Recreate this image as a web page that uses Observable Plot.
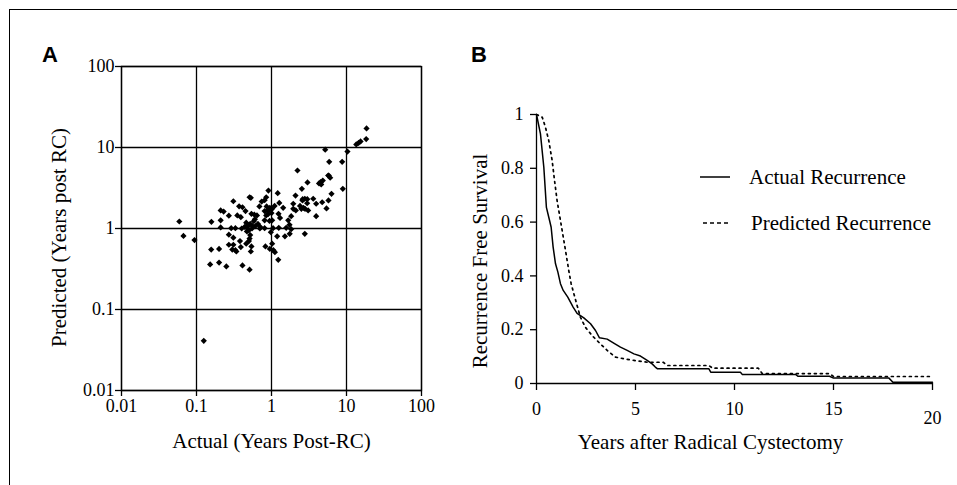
<!DOCTYPE html>
<html><head><meta charset="utf-8">
<script src="https://cdn.jsdelivr.net/npm/d3@7"></script>
<script src="https://cdn.jsdelivr.net/npm/@observablehq/plot@0.6"></script>
<style>
html,body{margin:0;padding:0;background:#fff;overflow:hidden;}
#wrap{position:relative;width:957px;height:485px;overflow:hidden;background:#fff;}
#border{position:absolute;left:9px;top:9px;width:1200px;height:800px;border-left:1.5px solid #000;border-top:1.5px solid #000;}
.panel{position:absolute;top:0;}
.lbl{position:absolute;font:bold 22px "Liberation Sans",Arial,sans-serif;color:#000;line-height:1;}
#legend{position:absolute;left:0;top:0;width:957px;height:485px;pointer-events:none;}
</style></head><body>
<div id="wrap">
<div id="border"></div>
<div id="pa" class="panel" style="left:0px"></div>
<div id="pb" class="panel" style="left:460px"></div>
<div class="lbl" style="left:42px;top:44px">A</div>
<div class="lbl" style="left:471px;top:44px">B</div>
<svg id="legend"></svg>
</div>
<script>
// ---------- Panel A data ----------
const actualYears = [0.059,0.067,0.094,0.158,0.21,0.21,0.157,0.20,0.152,0.20,0.25,0.21,0.23,0.27,0.31,0.35,0.37,0.41,0.39,0.29,0.33,0.27,0.31,0.38,0.27,0.31,0.33,0.34,0.39,0.41,0.51,0.51,0.53,0.45,0.54,0.59,0.46,0.49,0.52,0.56,0.61,0.66,0.71,0.46,0.54,0.53,0.51,0.52,0.58,0.64,0.69,0.74,0.81,0.85,0.91,0.86,0.81,0.89,0.95,1.02,0.81,0.81,0.94,1.02,1.05,0.83,0.95,1.02,1.06,1.11,1.23,1.19,1.25,1.24,1.27,1.21,1.43,1.57,1.51,1.74,1.83,1.75,1.67,1.83,1.95,1.95,2.11,2.09,2.22,2.54,2.59,2.78,2.67,2.99,3.02,3.08,3.6,2.78,3.94,3.94,4.5,4.74,4.83,5.2,5.41,5.75,5.88,5.7,6.06,6.31,8.75,8.93,10.3,13.5,14.5,15.4,18.3,18.5,
  0.125,0.48,0.50,0.44,0.55,0.47,0.90,0.92,1.0,0.85,2.4,2.6,2.8,2.5,3.0,1.1,0.5,0.3,0.6,0.7,0.4,0.98,1.3,4.3,4.6,5.8];
const predictedYears = [1.22,0.81,0.72,1.21,1.26,1.03,0.55,0.56,0.36,0.38,0.34,1.67,1.62,1.44,2.17,1.45,1.88,1.83,1.38,1.01,1.01,0.84,0.77,0.70,0.63,0.63,0.54,0.52,0.59,0.35,0.31,2.43,2.39,1.64,1.52,1.48,1.18,1.09,1.14,1.07,1.07,1.14,1.04,0.65,0.60,0.52,0.75,0.83,1.23,1.45,1.87,2.15,2.24,2.43,2.94,1.87,1.64,1.64,1.80,1.75,1.26,1.01,1.24,1.26,1.01,0.60,0.56,0.65,0.54,0.51,0.41,0.80,1.02,1.52,2.07,2.73,1.80,1.02,0.80,1.11,0.98,0.86,1.26,1.42,1.75,2.02,1.67,2.55,5.2,3.09,2.22,2.33,1.80,2.05,3.70,1.67,2.33,0.86,1.42,2.02,3.73,2.11,3.91,9.4,1.77,2.22,6.65,4.51,4.23,2.68,6.65,3.09,8.9,10.9,11.4,11.9,12.7,17.2,
  0.041,1.0,0.95,1.05,1.0,0.92,1.5,1.7,1.55,1.45,1.9,2.3,1.75,1.75,2.3,1.9,0.7,0.55,1.3,1.0,1.0,0.9,1.35,3.6,3.5,4.5];
const logTicks = [0.01, 0.1, 1, 10, 100];
const labelAX = "Actual (Years Post-RC)";
const labelAY = "Predicted (Years post RC)";

// ---------- Panel B data ----------
const actualTime = [0,0.2,0.37,0.5,0.66,0.74,0.84,0.96,1.08,1.21,1.35,1.58,1.85,2.05,2.39,2.73,2.98,3.18,3.57,3.9,4.24,4.58,4.92,5.25,5.59,5.84,6.0,6.1,8.7,8.8,10.3,10.4,13.1,13.2,14.8,15.0,17.8,18.0,20];
const actualSurvival = [1,0.928,0.804,0.655,0.606,0.581,0.507,0.445,0.414,0.371,0.346,0.321,0.284,0.261,0.244,0.222,0.197,0.170,0.165,0.150,0.135,0.123,0.110,0.102,0.086,0.073,0.061,0.055,0.055,0.042,0.042,0.033,0.033,0.027,0.027,0.020,0.020,0.005,0.005];
const predictedTime = [0,0.29,0.45,0.62,0.79,0.91,1.04,1.21,1.38,1.52,1.63,1.75,1.89,2.05,2.22,2.47,2.81,3.23,3.57,3.99,4.41,4.92,5.59,6.4,6.6,8.7,8.9,11.2,11.4,14.8,15.0,20];
const predictedSurvival = [1,0.99,0.953,0.903,0.829,0.755,0.680,0.606,0.532,0.470,0.420,0.371,0.333,0.290,0.246,0.209,0.178,0.147,0.123,0.098,0.092,0.086,0.079,0.079,0.067,0.067,0.057,0.057,0.037,0.037,0.026,0.026];
const xTicksB = [0, 5, 10, 15];
const xTickLastB = [20];
const yTicksB = [0, 0.2, 0.4, 0.6, 0.8, 1];
const labelBX = "Years after Radical Cystectomy";
const labelBY = "Recurrence Free Survival";
const legendLabels = ["Actual Recurrence", "Predicted Recurrence"];

const serif = '"Liberation Serif","Times New Roman",serif';
const points = actualYears.map((a, i) => ({actual: a, predicted: predictedYears[i]}));
const actualCurve = actualTime.map((t, i) => ({t, s: actualSurvival[i]}));
const predCurve = predictedTime.map((t, i) => ({t, s: predictedSurvival[i]}));
const diamond = d3.symbolDiamond2 || "diamond";

const plotA = Plot.plot({
  width: 470, height: 485,
  marginLeft: 121, marginRight: 49, marginTop: 66, marginBottom: 95,
  style: {fontFamily: serif, fontSize: "18px", color: "#000", background: "transparent", overflow: "visible"},
  x: {type: "log", domain: [0.01, 100], label: null},
  y: {type: "log", domain: [0.01, 100], label: null},
  marks: [
    Plot.gridX(logTicks, {stroke: "#000", strokeOpacity: 1, strokeWidth: 1.3}),
    Plot.gridY(logTicks, {stroke: "#000", strokeOpacity: 1, strokeWidth: 1.3}),
    Plot.frame({stroke: "#000", strokeWidth: 1.3}),
    Plot.axisX(logTicks, {tickSize: 6, tickPadding: 3, tickFormat: d => String(d), label: null, strokeWidth: 1.3}),
    Plot.axisY(logTicks, {tickSize: 6, tickPadding: 1, tickFormat: d => String(d), label: null, strokeWidth: 1.3}),
    Plot.dot(points, {x: "actual", y: "predicted", symbol: diamond, r: 2.8, fill: "#000", stroke: "none"}),
    Plot.text([labelAX], {text: d => d, frameAnchor: "bottom", dy: 51, textAnchor: "middle", lineAnchor: "middle", fontSize: 21}),
    Plot.text([labelAY], {text: d => d, frameAnchor: "left", rotate: -90, dx: -62, dy: 9, textAnchor: "middle", lineAnchor: "middle", fontSize: 21})
  ]
});
document.getElementById("pa").appendChild(plotA);

const plotB = Plot.plot({
  width: 497, height: 485,
  marginLeft: 76, marginRight: 25, marginTop: 114, marginBottom: 102,
  style: {fontFamily: serif, fontSize: "18px", color: "#000", background: "transparent", overflow: "visible"},
  x: {domain: [0, 20], label: null},
  y: {domain: [0, 1], label: null},
  marks: [
    Plot.ruleX([0], {stroke: "#000", strokeWidth: 1.3}),
    Plot.ruleY([0], {stroke: "#000", strokeWidth: 1.3}),
    Plot.axisX(xTicksB, {tickSize: 7, tickPadding: 12, label: null, strokeWidth: 1.3}),
    Plot.axisX(xTickLastB, {tickSize: 7, tickPadding: 21, label: null, strokeWidth: 1.3}),
    Plot.axisY(yTicksB, {tickSize: 6, tickPadding: 7, label: null, strokeWidth: 1.3,
      tickFormat: d => (d === 0 ? "0" : d === 1 ? "1" : d.toFixed(1))}),
    Plot.line(predCurve, {x: "t", y: "s", stroke: "#000", strokeWidth: 1.7, strokeDasharray: "2,4"}),
    Plot.line(actualCurve, {x: "t", y: "s", stroke: "#000", strokeWidth: 1.5}),
    Plot.text([labelBX], {text: d => d, frameAnchor: "bottom", dx: -24, dy: 59, textAnchor: "middle", lineAnchor: "middle", fontSize: 21}),
    Plot.text([labelBY], {text: d => d, frameAnchor: "left", rotate: -90, dx: -56, dy: 12, textAnchor: "middle", lineAnchor: "middle", fontSize: 21})
  ]
});
document.getElementById("pb").appendChild(plotB);

// legend (panel B)
const lg = d3.select("#legend");
const rows = [
  {label: legendLabels[0], x1: 700, x2: 730, tx: 749, y: 177, dash: null},
  {label: legendLabels[1], x1: 703, x2: 728, tx: 751, y: 223, dash: "4,3"}
];
rows.forEach(r => {
  lg.append("line").attr("x1", r.x1).attr("x2", r.x2).attr("y1", r.y).attr("y2", r.y)
    .attr("stroke", "#000").attr("stroke-width", 1.5).attr("stroke-dasharray", r.dash);
  lg.append("text").attr("x", r.tx).attr("y", r.y).attr("dy", "0.35em")
    .attr("font-family", serif).attr("font-size", 21).attr("fill", "#000").text(r.label);
});
</script>
</body></html>
